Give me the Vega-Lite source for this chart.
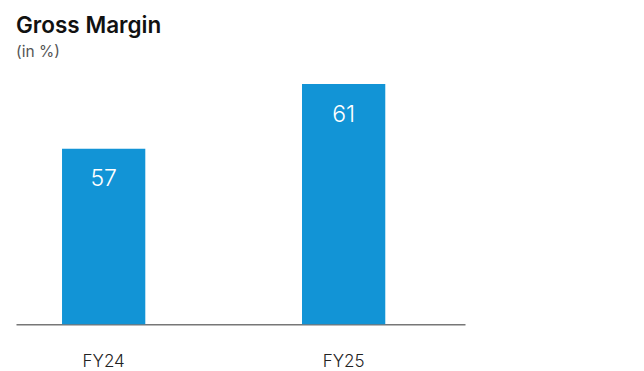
{
  "$schema": "https://vega.github.io/schema/vega-lite/v6.json",
  "autosize": {"type": "none"},
  "padding": {"left": 16, "top": 84, "right": 179, "bottom": 46.7},
  "width": 449,
  "height": 240.3,
  "background": "white",
  "title": {
    "text": "Gross Margin",
    "subtitle": "(in %)",
    "anchor": "start",
    "frame": "group",
    "offset": 24,
    "font": "Inter",
    "fontSize": 22.5,
    "fontWeight": 600,
    "color": "#111111",
    "subtitleFont": "Inter",
    "subtitleFontSize": 15.5,
    "subtitleColor": "#555555",
    "subtitlePadding": 7
  },
  "data": {
    "values": [
      {"year": "FY24", "margin": 57},
      {"year": "FY25", "margin": 61}
    ]
  },
  "encoding": {
    "x": {
      "field": "year",
      "type": "nominal",
      "sort": null,
      "scale": {"paddingInner": 0.653, "paddingOuter": 0.262, "align": 0.366},
      "axis": {
        "title": null,
        "labelAngle": 0,
        "ticks": false,
        "labelPadding": 29,
        "labelFont": "Inter",
        "labelFontSize": 17,
        "labelFontWeight": 300,
        "labelColor": "#222222",
        "domainColor": "#777777",
        "domainWidth": 1.5
      }
    },
    "y": {
      "field": "margin",
      "type": "quantitative",
      "scale": {"domain": [46.15, 61], "zero": false, "nice": false},
      "axis": null
    }
  },
  "layer": [
    {
      "mark": {"type": "bar", "color": "#1294d6"},
      "encoding": {"y2": {"datum": 46.15}}
    },
    {
      "mark": {"type": "text", "baseline": "middle", "dy": 30.5, "font": "Inter", "fontSize": 23, "fontWeight": 300, "color": "white"},
      "encoding": {"text": {"field": "margin", "type": "quantitative"}}
    }
  ],
  "config": {"view": {"stroke": null}}
}
